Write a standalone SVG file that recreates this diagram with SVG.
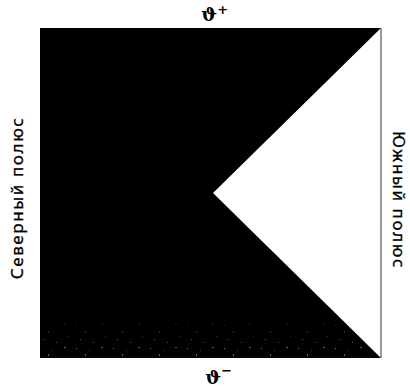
<svg xmlns="http://www.w3.org/2000/svg" width="410" height="389" viewBox="0 0 410 389">
  <defs>
    <style>
      .lbl { font-family: "Noto Sans", "Open Sans", "DejaVu Sans", sans-serif; font-size: 17px; letter-spacing: 1.6px; fill: #000; stroke: #000; stroke-width: 0.3px; }
      .sym { font-family: "DejaVu Serif", "Liberation Serif", serif; font-size: 19px; font-weight: bold; fill: #000; }
      .sup { font-family: "DejaVu Sans", "Liberation Sans", sans-serif; font-size: 13px; font-weight: bold; }
    </style>
    <pattern id="speck" width="37" height="23" patternUnits="userSpaceOnUse">
      <rect x="2" y="3" width="1" height="1" fill="#aaa"/>
      <rect x="11" y="9" width="1" height="2" fill="#888"/>
      <rect x="27" y="2" width="2" height="1" fill="#999"/>
      <rect x="6" y="17" width="1" height="1" fill="#bbb"/>
      <rect x="31" y="14" width="1" height="1" fill="#777"/>
      <rect x="19" y="20" width="1" height="1" fill="#999"/>
      <rect x="15" y="5" width="1" height="1" fill="#666"/>
    </pattern>
    <linearGradient id="fade" x1="0" y1="0" x2="0" y2="1">
      <stop offset="0" stop-color="#fff" stop-opacity="0"/>
      <stop offset="0.6" stop-color="#fff" stop-opacity="0.12"/>
      <stop offset="1" stop-color="#fff" stop-opacity="0.8"/>
    </linearGradient>
    <mask id="m">
      <rect x="40" y="260" width="341" height="98" fill="url(#fade)"/>
    </mask>
    <clipPath id="shape">
      <polygon points="40,28 381,28 213,193 381,358 40,358"/>
    </clipPath>
  </defs>
  <g id="region">
    <polygon points="40,28 381,28 213,193 381,358 40,358" fill="#000"/>
    <rect x="40" y="260" width="341" height="98" fill="url(#speck)" mask="url(#m)" clip-path="url(#shape)"/>
    <line x1="381" y1="28" x2="381" y2="358" stroke="#333" stroke-width="1"/>
  </g>
  <g id="labels">
    <text class="sym" x="201" y="21">ϑ<tspan class="sup" dy="-7">+</tspan></text>
    <text class="sym" x="205" y="384">ϑ<tspan class="sup" dy="-9">−</tspan></text>
    <text class="lbl" transform="translate(23,198) rotate(-90)" text-anchor="middle">Северный полюс</text>
    <text class="lbl" transform="translate(393,200) rotate(90)" text-anchor="middle">Южный полюс</text>
  </g>
</svg>
